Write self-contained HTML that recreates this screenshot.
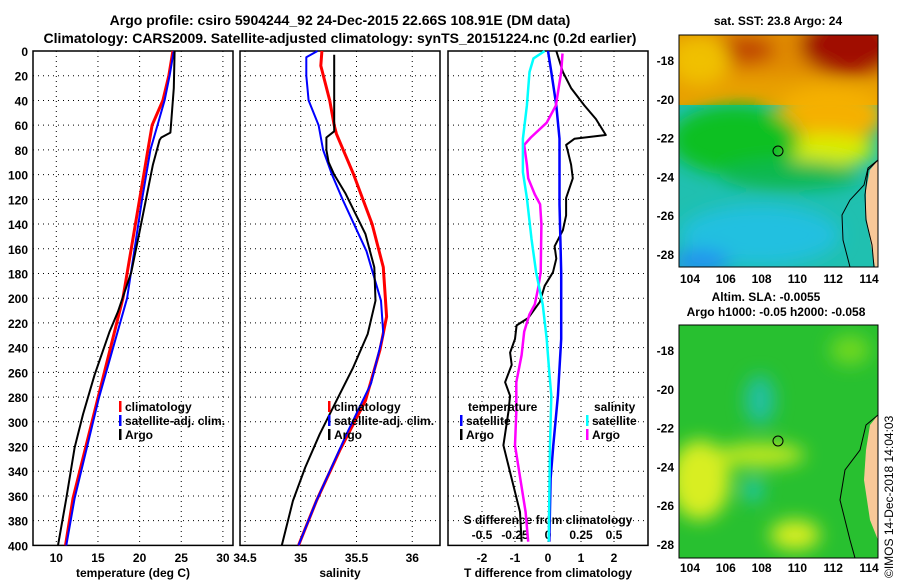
<!DOCTYPE html>
<html><head><meta charset="utf-8"><style>
body{margin:0;background:#fff;width:900px;height:580px;overflow:hidden}
svg{font-family:"Liberation Sans",sans-serif;font-weight:bold}
</style></head><body>
<svg id="c" width="900" height="580" xmlns="http://www.w3.org/2000/svg">
<defs>
<filter id="bl" x="-20%" y="-20%" width="140%" height="140%"><feGaussianBlur stdDeviation="9"/></filter>
<clipPath id="m1c"><rect x="679" y="35" width="199" height="232"/></clipPath>
<clipPath id="m2c"><rect x="679" y="325" width="199" height="233"/></clipPath>
</defs>
<text x="340" y="25" text-anchor="middle" font-size="14">Argo profile: csiro 5904244_92 24-Dec-2015 22.66S 108.91E (DM data)</text>
<text x="340" y="43" text-anchor="middle" font-size="14">Climatology: CARS2009. Satellite-adjusted climatology: synTS_20151224.nc (0.2d earlier)</text>

<g>
<text x="778" y="25" text-anchor="middle" font-size="12">sat. SST: 23.8 Argo: 24</text>
<g clip-path="url(#m1c)">
<rect x="679" y="35" width="199" height="232" fill="#20c0b0"/>
<rect x="679" y="35" width="199" height="70" fill="#e8a000"/>
<g filter="url(#bl)">
<rect x="679" y="20" width="220" height="55" fill="#e08a00"/>
<ellipse cx="850" cy="45" rx="50" ry="30" fill="#a01000"/>
<ellipse cx="745" cy="50" rx="30" ry="14" fill="#c04400"/>
<ellipse cx="700" cy="60" rx="30" ry="25" fill="#f0c000"/>
<ellipse cx="830" cy="115" rx="55" ry="30" fill="#f5b000"/>
<ellipse cx="825" cy="150" rx="50" ry="16" fill="#d8ee00"/>
<ellipse cx="735" cy="140" rx="65" ry="35" fill="#10c020"/>
<ellipse cx="790" cy="175" rx="70" ry="15" fill="#10b850"/>
<ellipse cx="760" cy="235" rx="80" ry="30" fill="#20c0e0"/>
<ellipse cx="700" cy="262" rx="30" ry="12" fill="#2090f0"/>
</g>
<polygon points="878,160 870,170 866,190 866,215 870,240 875,267 878,267" fill="#f8c898"/>
<path d="M878,160 L868,168 L864,185 L850,200 L842,215 L843,240 L850,267" fill="none" stroke="#000" stroke-width="1"/>
<path d="M878,160 L868,170 L865,195 L866,220 L872,245 L874,267" fill="none" stroke="#000" stroke-width="1"/>
</g>
<rect x="679" y="35" width="199" height="232" fill="none" stroke="#000" stroke-width="1"/>
<circle cx="778" cy="151" r="5" fill="none" stroke="#000"/>
</g>
<g>
<text x="766" y="301" text-anchor="middle" font-size="12">Altim. SLA: -0.0055</text>
<text x="776" y="316" text-anchor="middle" font-size="12">Argo h1000: -0.05 h2000: -0.058</text>
<g clip-path="url(#m2c)">
<rect x="679" y="325" width="199" height="233" fill="#28c030"/>
<g filter="url(#bl)">
<ellipse cx="700" cy="480" rx="30" ry="40" fill="#d8ee20"/>
<ellipse cx="760" cy="455" rx="45" ry="12" fill="#c0e820"/>
<ellipse cx="795" cy="535" rx="25" ry="15" fill="#d8ee20"/>
<ellipse cx="760" cy="400" rx="15" ry="25" fill="#20c0a0"/>
<ellipse cx="753" cy="490" rx="10" ry="12" fill="#20c8b0"/>
<ellipse cx="850" cy="350" rx="20" ry="15" fill="#70d820"/>
</g>
<polygon points="878,415 870,425 866,450 864,480 870,520 878,540" fill="#f8c898"/>
<path d="M878,415 L866,425 L860,450 L845,470 L840,500 L850,540 L855,558" fill="none" stroke="#000" stroke-width="1"/>
</g>
<rect x="679" y="325" width="199" height="233" fill="none" stroke="#000" stroke-width="1"/>
<circle cx="778" cy="441" r="5" fill="none" stroke="#000"/>
</g>
<text transform="translate(893,578) rotate(-90)" font-size="12" font-weight="normal">©IMOS 14-Dec-2018 14:04:03</text>
<g id="ax"></g>
</svg>
<script>
const depthTicks=[0,20,40,60,80,100,120,140,160,180,200,220,240,260,280,300,320,340,360,380,400];
const tempTicks=[10,15,20,25,30];
const salTicks=[34.5,35,35.5,36];
const tdiffTicks=[-2,-1,0,1,2];
const sdiffTicks=[-0.5,-0.25,0,0.25,0.5];
const mapLon=[104,106,108,110,112,114];
const mapLat=[-18,-20,-22,-24,-26,-28];
const climTD=[0,20,40,60,80,100,120,200,281,362,400];
const climT=[24,23.5,22.8,21.5,21,20.5,20,18,15,12,11.1];
const satTD=[0,20,40,80,120,200,281,362,400];
const satT=[24.1,23.6,23,21.3,20.3,18.5,15.1,12.2,11.2];
const argoTD=[0,30,66,70,72,92,146,179,211,227,262,294,321,362,400];
const argoT=[24.2,24.1,23.7,22.6,22.4,21.6,20,19,17.4,16.4,14.6,13.2,12.2,11.2,10.2];
const climSD=[0,12,40,60,67,99,140,175,215,242,283,323,364,400];
const climS=[35.19,35.18,35.26,35.3,35.32,35.47,35.64,35.74,35.77,35.71,35.58,35.35,35.14,34.98];
const satSD=[0,5,20,40,60,80,100,121,162,202,229,269,310,364,400];
const satS=[35.15,35.05,35.05,35.07,35.16,35.2,35.28,35.38,35.59,35.72,35.74,35.63,35.41,35.14,34.98];
const argoSD=[3,65,70,80,90,100,115,148,175,202,229,256,283,310,337,364,400];
const argoS=[35.3,35.3,35.23,35.23,35.25,35.3,35.4,35.58,35.66,35.67,35.6,35.47,35.32,35.17,35.04,34.93,34.83];
const dTD=[0,17,30,44,55,68,71,76,81,92,103,119,133,145,158,168,179,190,203,216,222,233,244,254,268,279,292,319,346,373,397];
const dTargo=[0.25,0.45,0.7,1.1,1.45,1.75,0.8,0.55,0.6,0.7,0.75,0.55,0.55,0.45,0.2,0.25,0.15,-0.1,-0.25,-0.6,-0.95,-1,-1.15,-1.1,-1.3,-1.15,-1.2,-1.35,-1.1,-0.85,-0.8];
const dTsD=[0,17,44,71,124,179,233,279,319,346,397];
const dTsat=[0,0.1,0.25,0.35,0.35,0.4,0.4,0.3,0.16,0.08,0.04];
const dSaD=[2,17,44,58,70,76,92,103,116,124,140,179,192,205,213,227,246,268,292,319,346,373,397];
const dSargo=[0.11,0.1,0.06,-0.01,-0.13,-0.18,-0.16,-0.15,-0.1,-0.06,-0.05,-0.055,-0.075,-0.1,-0.14,-0.18,-0.2,-0.24,-0.24,-0.25,-0.21,-0.17,-0.15];
const dSsD=[0,6,17,44,71,98,119,152,179,205,233,260,279,319,397];
const dSsat=[-0.025,-0.11,-0.14,-0.16,-0.19,-0.19,-0.16,-0.125,-0.09,-0.04,-0.01,0.01,0.025,0.015,0.005];

const NS='http://www.w3.org/2000/svg';
const ax=document.getElementById('ax');
const Y0=51,YS=1.236;
const yD=d=>Y0+d*YS;
const P=[{x:33,w:200},{x:240,w:200},{x:448,w:200}];
const xT=t=>56.3+(t-10)*8.33;
const xS=s=>245+(s-34.5)*111.5;
const xTd=t=>548+t*33;
const xSd=s=>548+s*132;
function el(tag,a,txt){const e=document.createElementNS(NS,tag);for(const k in a)e.setAttribute(k,a[k]);if(txt!==undefined)e.textContent=txt;ax.appendChild(e);return e;}
function grid(p,xs){
  depthTicks.slice(1,-1).forEach(d=>{const l=el('line',{x1:p.x,x2:p.x+p.w,y1:yD(d),y2:yD(d),stroke:'#000','stroke-dasharray':'1,4'});
  
  });
  xs.forEach(x=>{const l=el('line',{x1:x,x2:x,y1:yD(0),y2:yD(400),stroke:'#000','stroke-dasharray':'1,4'});
  
  });
  const r=el('rect',{x:p.x,y:yD(0),width:p.w,height:yD(400)-yD(0),fill:'none',stroke:'#000','stroke-width':1.5});
  
  
}
function line(ds,vs,fx,col,w,name){
  const pts=ds.map((d,i)=>fx(vs[i]).toFixed(1)+','+yD(d).toFixed(1)).join(' ');
  const l=el('polyline',{points:pts,fill:'none',stroke:col,'stroke-width':w,'stroke-linejoin':'round'});
  
  
}
function txt(x,y,s,anchor,size,name){const t=el('text',{x:x,y:y,'text-anchor':anchor||'start','font-size':size||12},s);
  
  return t;}
grid(P[0],tempTicks.map(xT));
grid(P[1],salTicks.map(xS));
grid(P[2],tdiffTicks.map(xTd));
depthTicks.forEach(d=>txt(28,yD(d)+5,String(d),'end',12,'depth-tick-label'));
tempTicks.forEach(t=>txt(xT(t),562,String(t),'middle',12,'temp-tick-label'));
salTicks.forEach(s=>txt(xS(s),562,String(s),'middle',12,'salinity-tick-label'));
tdiffTicks.forEach(t=>txt(xTd(t),562,String(t),'middle',12,'tdiff-tick-label'));
sdiffTicks.forEach(s=>txt(xSd(s),539,String(s),'middle',12,'sdiff-tick-label'));
txt(133,577,'temperature (deg C)','middle',12,'x-axis-title-temperature');
txt(340,577,'salinity','middle',12,'x-axis-title-salinity');
txt(548,577,'T difference from climatology','middle',12,'x-axis-title-tdiff');
txt(548,524,'S difference from climatology','middle',12,'x-axis-title-sdiff');
line(climTD,climT,xT,'#f00',3,'temp-climatology-line');
line(satTD,satT,xT,'#00f',2,'temp-satellite-line');
line(argoTD,argoT,xT,'#000',2,'temp-argo-line');
line(climSD,climS,xS,'#f00',3,'sal-climatology-line');
line(satSD,satS,xS,'#00f',2,'sal-satellite-line');
line(argoSD,argoS,xS,'#000',2,'sal-argo-line');
line(dTD,dTargo,xTd,'#000',2,'tdiff-argo-line');
line(dTsD,dTsat,xTd,'#00f',2.5,'tdiff-satellite-line');
line(dSaD,dSargo,xSd,'#f0f',2.5,'sdiff-argo-line');
line(dSsD,dSsat,xSd,'#0ff',2.5,'sdiff-satellite-line');
function leg(x,y,col,label){const r=el('rect',{x:x,y:y-10,width:2.5,height:11,fill:col});
  
  
  txt(x+6,y,label,'start',12,'legend-entry');}
[[119,'#f00','climatology'],[119,'#00f','satellite-adj. clim.'],[119,'#000','Argo']].forEach((e,i)=>leg(e[0],411+i*14,e[1],e[2]));
[[328,'#f00','climatology'],[328,'#00f','satellite-adj. clim.'],[328,'#000','Argo']].forEach((e,i)=>leg(e[0],411+i*14,e[1],e[2]));
txt(468,411,'temperature','start',12,'legend-title-temperature');
leg(460,425,'#00f','satellite');leg(460,439,'#000','Argo');
txt(594,411,'salinity','start',12,'legend-title-salinity');
leg(586,425,'#0ff','satellite');leg(586,439,'#f0f','Argo');
const lx=l=>690+(l-104)*17.9;
mapLon.forEach(l=>{txt(lx(l),283,String(l),'middle',12,'sst-lon-label');txt(lx(l),572,String(l),'middle',12,'sla-lon-label');});
mapLat.forEach(l=>{txt(674,60+(-18-l)*19.4+5,String(l),'end',12,'sst-lat-label');txt(674,350+(-18-l)*19.4+5,String(l),'end',12,'sla-lat-label');});
</script>
</body></html>
